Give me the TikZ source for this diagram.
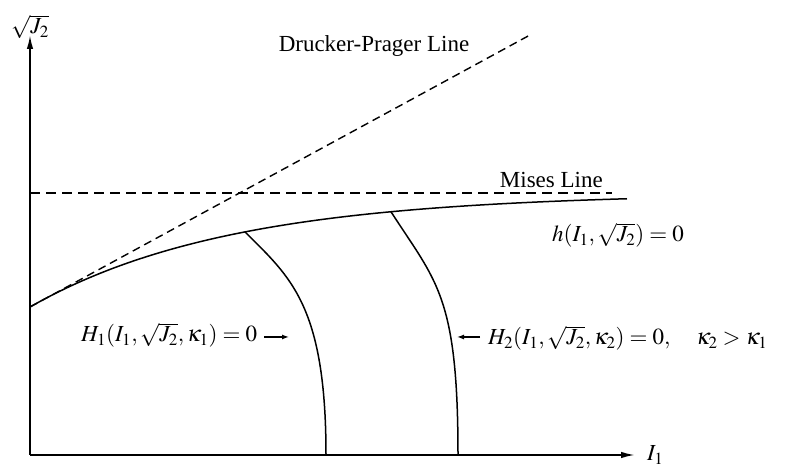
\documentclass[tikz,border=0pt]{standalone}
\usepackage{mathptmx}
\usepackage{fontspec}
\setmainfont{Liberation Serif}
\usepackage{amsmath}
\usetikzlibrary{arrows.meta,calc,positioning}

\begin{document}
\begin{tikzpicture}[x=10pt, y=10pt,
  axis/.style={line width=1.8pt, -{Latex[length=14pt,width=6.5pt]}},
  curve/.style={line width=1.5pt},
  mises/.style={line width=2.4pt, dash pattern=on 10pt off 6pt},
  dpline/.style={line width=1.4pt, dash pattern=on 8pt off 5pt},
  ptr/.style={line width=1.3pt, -{Latex[length=7pt,width=5pt]}},
  lbl/.style={font=\fontsize{23}{27}\selectfont, inner sep=0pt},
  eqn/.style={font=\fontsize{23}{27}\selectfont, inner sep=0pt}]
  \useasboundingbox (-3,-1.5) rectangle (75.5,45.5);
  % axes
  \coordinate (O) at (0,0);
  \coordinate (xend) at (60.5,0);
  \coordinate (yend) at (0,42);
  \draw[axis] (O) -- (xend);
  \draw[axis] (O) -- (yend);
  \node[eqn, right=12pt of xend] (xlab) {$I_1$};
  \node[eqn, anchor=base] (ylab) at (0,42.1) {$\sqrt{J_2}$};
  % Mises line
  \coordinate (ms0) at (0,26.2);
  \coordinate (ms1) at (58.2,26.2);
  \draw[mises] (ms0) -- (ms1);
  \node[lbl, anchor=base east] (mslab) at (57.3,26.7) {Mises Line};
  % Drucker-Prager line
  \coordinate (dp0) at (0,14.8);
  \coordinate (dp1) at (50,42);
  \draw[dpline] (dp0) -- (dp1);
  \node[lbl, anchor=base] (dplab) at (34.4,40.3) {Drucker-Prager Line};
  % h = 0 surface
  \draw[curve, domain=0:59.7, smooth, samples=60, variable=\x]
    plot ({\x},{14.8+11.4*(1-exp(-\x/20))});
  \node[eqn, anchor=base west] (hlab) at (52.2,21.3) {$h(I_1,\sqrt{J_2})=0$};
  % H_1 and H_2 caps
  \coordinate (j1) at (21.5,{14.8+11.4*(1-exp(-21.5/20))});
  \coordinate (b1) at (29.6,0);
  \draw[curve] (j1) .. controls +(4.5,-4.5) and +(0,15) .. (b1);
  \coordinate (j2) at (36.1,{14.8+11.4*(1-exp(-36.1/20))});
  \coordinate (b2) at (42.8,0);
  \draw[curve] (j2) .. controls +(4.5,-7) and +(0,16) .. (b2);
  % labels of the caps
  \node[eqn, anchor=base west] (H1lab) at (5.1,11.3) {$H_1(I_1,\sqrt{J_2},\kappa_1)=0$};
  \coordinate (a1s) at (23.4,11.8);
  \coordinate (a1e) at (25.9,11.8);
  \draw[ptr] (a1s) -- (a1e);
  \node[eqn, anchor=base west] (H2lab) at (45.8,11.0) {$H_2(I_1,\sqrt{J_2},\kappa_2)=0,\quad \kappa_2>\kappa_1$};
  \coordinate (a2s) at (45.0,11.8);
  \coordinate (a2e) at (42.7,11.8);
  \draw[ptr] (a2s) -- (a2e);
\end{tikzpicture}
\end{document}
